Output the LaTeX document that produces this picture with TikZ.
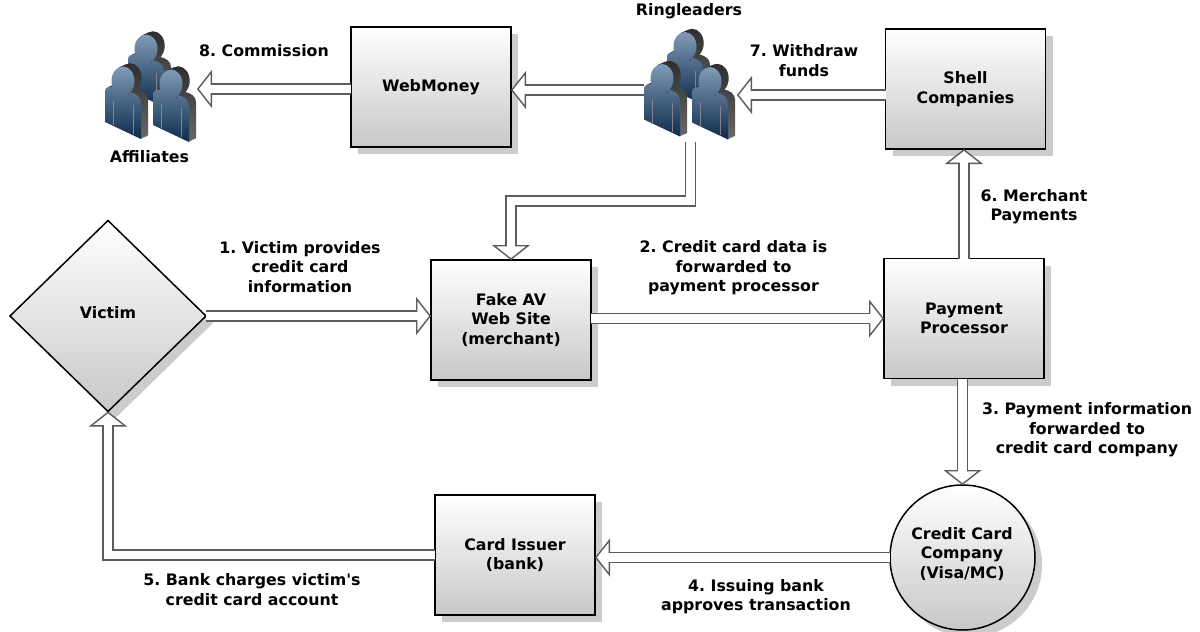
\documentclass[tikz,border=0pt]{standalone}
\usepackage{fontspec}
\setmainfont{DejaVu Sans}[Ligatures=TeXOff]
\frenchspacing
\usetikzlibrary{arrows.meta,shapes.geometric,shadows,calc}
\definecolor{shadowgray}{HTML}{CCCCCC}
\definecolor{boxbottom}{HTML}{C8C8C8}
\definecolor{arrowgray}{HTML}{5C5C5C}
\definecolor{persontop}{HTML}{7F9BB7}
\definecolor{personbot}{HTML}{0E2A4C}
\definecolor{sidetop}{HTML}{2E2E2E}
\definecolor{sidebot}{HTML}{666666}
\newcommand{\labelfont}{\fontsize{15.8pt}{19.5pt}\selectfont\bfseries}
\newcommand{\personoutline}{
  (-18,41) -- (-18,10) .. controls (-18,6) and (-13,5) .. (-7,6)
  -- (-7,12) -- (6,14) -- (6,11)
  .. controls (12,12) and (18,15) .. (18,22) -- (18,58) -- cycle
  (0,0) ellipse [x radius=11.5, y radius=14.5]
}
\tikzset{
  x=1pt,y=-1pt,
  boxstyle/.style={draw=black,line width=1.5pt,top color=white,bottom color=boxbottom,
    general shadow={fill=shadowgray,shadow xshift=7pt,shadow yshift=-7pt},
    align=center,font=\labelfont,text=black,inner sep=0pt,outer sep=0pt},
  rectbox/.style={boxstyle,rectangle,minimum width=160pt,minimum height=120pt},
  label/.style={align=center,font=\labelfont,text=black,inner sep=0pt},
  group/.style={rectangle,inner sep=0pt,outer sep=0pt,minimum width=93pt,minimum height=104pt},
  hollow/.style={draw=arrowgray,line width=1.4pt,double=white,double distance=8.4pt,
    -{Triangle[length=15pt,width=38pt,line width=1.4pt,color=arrowgray,fill=white]},
    postaction={draw=white,line width=8.4pt,shorten >=11pt,-}},
  person/.pic={
    \foreach \s in {1,...,8}{\shade[top color=sidetop,bottom color=sidebot,shift={(\s*0.9,-\s*0.4)}] \personoutline;}
    \shade[top color=persontop,bottom color=personbot] \personoutline;
    \draw[gray!80!persontop,line width=0.7pt] (-10,20) -- (-10,44) (10,24) -- (10,53);
  },
  crowd/.pic={
    \pic at (-4,-39) {person};
    \pic at (-27,-7) {person};
    \pic at (21,-4) {person};
  },
}
\begin{document}
\begin{tikzpicture}
\useasboundingbox (0,0) rectangle (1200,632);
\fill[white] (0,0) rectangle (1200,632);

% people groups
\pic at (150,88) {crowd};
\pic at (689,85.5) {crowd};
\node[group] (aff) at (150.5,90) {};
\node[group] (ring) at (690.5,90) {};

% nodes
\node[rectbox] (web) at (431,87) {WebMoney};
\node[rectbox] (shell) at (965.5,89) {Shell\\Companies};
\node[rectbox] (fake) at (511,320) {Fake AV\\Web Site\\(merchant)};
\node[rectbox] (pay) at (964,318.5) {Payment\\Processor};
\node[rectbox] (issuer) at (515,555) {Card Issuer\\(bank)};
\node[boxstyle,diamond,shape aspect=1,minimum width=196pt,minimum height=191pt,
      general shadow={fill=shadowgray,shadow xshift=6pt,shadow yshift=-6pt}] (victim) at (108,316) {};
\node[label] (victimtext) at (108,313) {Victim};
\node[boxstyle,circle,minimum size=145pt,
      general shadow={fill=shadowgray,shadow xshift=5pt,shadow yshift=-5pt}] (card) at (962.5,557.5) {};
\node[label] (cardtext) at (962,554) {Credit Card\\Company\\(Visa/MC)};

% connector anchors
\coordinate (shellout) at ([yshift=-6pt]shell.west);
\coordinate (webout) at ([yshift=-2pt]web.west);

% connectors
\draw[hollow] (shellout) -- (ring.east |- shellout);
\draw[hollow] (ring.west) -- (web.east |- ring.west);
\draw[hollow] (webout) -- (aff.east |- webout);
\draw[hollow] (ring.south) -- ++(0,59) -| (fake.north);
\draw[hollow] (victim.east) -- (fake.west |- victim.east);
\draw[hollow] (fake.east |- pay.west) -- (pay.west);
\draw[hollow] (pay.north) -- (pay.north |- shell.south);
\draw[hollow] (pay.south -| card.north) -- (card.north);
\draw[hollow] (card.west) -- (issuer.east |- card.west);
\draw[hollow] (issuer.west) -| (victim.south);

% labels
\node[label] (l1) at (300,267) {1. Victim provides\\credit card\\information};
\node[label] (l2) at (733.5,268) {2. Credit card data is\\forwarded to\\payment processor};
\node[label] (l3) at (1087,430) {3. Payment information\\forwarded to\\credit card company};
\node[label] (l4) at (756,596.5) {4. Issuing bank\\approves transaction};
\node[label] (l5) at (252,589.5) {5. Bank charges victim's\\credit card account};
\node[label] (l6) at (1034,206.5) {6. Merchant\\Payments};
\node[label] (l7) at (804,60.5) {7. Withdraw\\funds};
\node[label] (l8) at (264,51) {8. Commission};
\node[label] (lr) at (689,11) {Ringleaders};
\node[label] (la) at (149.5,157) {Affiliates};
\end{tikzpicture}
\end{document}
